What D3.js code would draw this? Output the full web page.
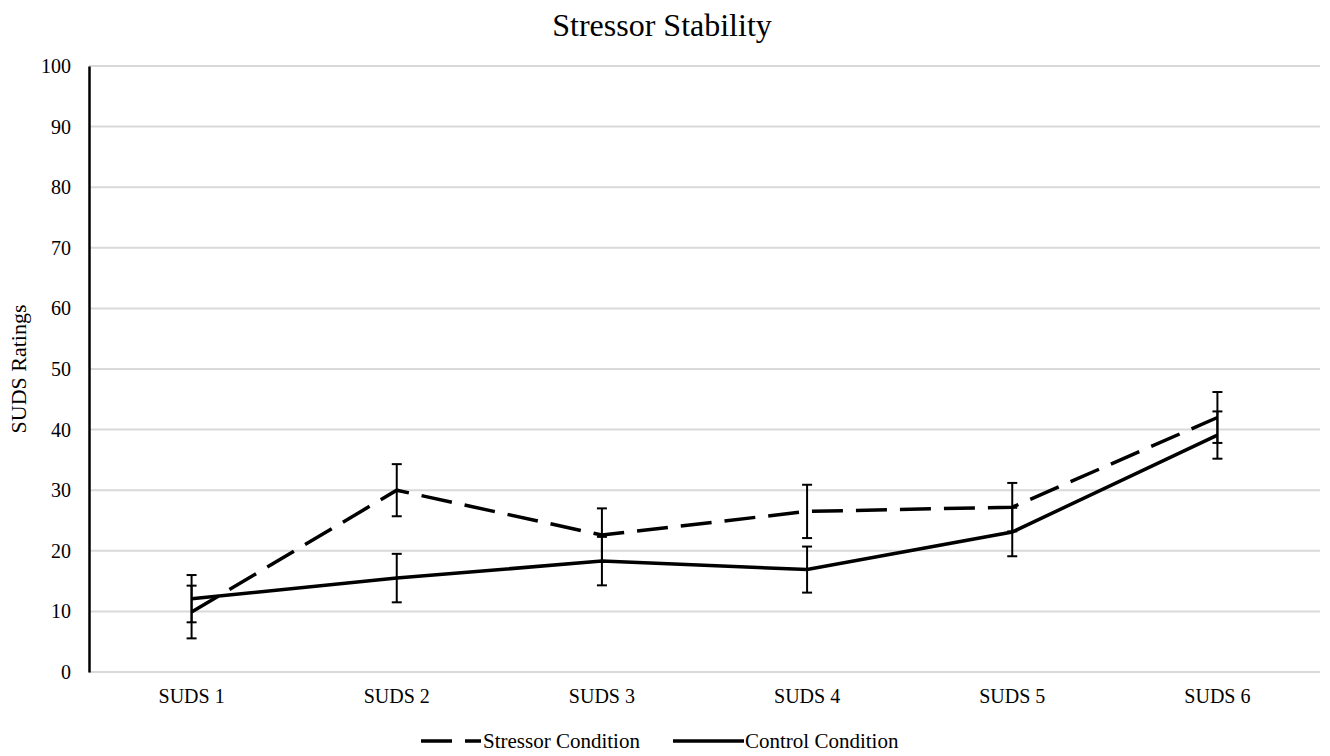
<!DOCTYPE html>
<html>
<head>
<meta charset="utf-8">
<script src="https://cdn.jsdelivr.net/npm/d3@7"></script>
<style>
  body { margin: 0; background: #fff; }
  text { font-family: "Liberation Serif", "Times New Roman", serif; fill: #000; }
</style>
</head>
<body>
<svg id="chart" width="1330" height="756"></svg>
<script>
const categories = ['SUDS 1', 'SUDS 2', 'SUDS 3', 'SUDS 4', 'SUDS 5', 'SUDS 6'];
const stressorValues = [9.9, 30.0, 22.6, 26.5, 27.2, 42.0];
const stressorErrors = [4.35, 4.3, 4.4, 4.4, 4.0, 4.2];
const controlValues = [12.1, 15.5, 18.3, 16.9, 23.1, 39.1];
const controlErrors = [3.9, 4.0, 4.0, 3.8, 4.0, 3.9];
const yTicks = [0, 10, 20, 30, 40, 50, 60, 70, 80, 90, 100];

const svg = d3.select('#chart');
const margin = { top: 66, right: 10, bottom: 84, left: 89 };
const width = 1330 - margin.left - margin.right;
const height = 756 - margin.top - margin.bottom;

const g = svg.append('g').attr('transform', `translate(${margin.left},${margin.top})`);

const x = d3.scaleBand().domain(categories).range([0, width]);
const y = d3.scaleLinear().domain([0, 100]).range([height, 0]);

// gridlines
g.selectAll('.grid')
  .data(yTicks)
  .enter()
  .append('line')
  .attr('x1', 0)
  .attr('x2', width)
  .attr('y1', d => y(d))
  .attr('y2', d => y(d))
  .attr('stroke', '#d9d9d9')
  .attr('stroke-width', 2);

// y axis
const yAxis = g.append('g')
  .call(d3.axisLeft(y).tickValues(yTicks).tickSize(0).tickPadding(18));
yAxis.select('.domain').attr('stroke', '#000').attr('stroke-width', 2.5);
yAxis.selectAll('text')
  .style('font-family', '"Liberation Serif", serif')
  .style('font-size', '20px');

// x axis labels
const xAxis = g.append('g')
  .attr('transform', `translate(0,${height})`)
  .call(d3.axisBottom(x).tickSize(0).tickPadding(17));
xAxis.select('.domain').remove();
xAxis.selectAll('text')
  .style('font-family', '"Liberation Serif", serif')
  .style('font-size', '20px');

const series = [
  { name: 'Stressor Condition', values: stressorValues, errors: stressorErrors, dash: '31,13' },
  { name: 'Control Condition', values: controlValues, errors: controlErrors, dash: null }
];

const line = d3.line()
  .x((d, i) => x(categories[i]) + x.bandwidth() / 2)
  .y(d => y(d));

series.forEach(s => {
  g.append('path')
    .datum(s.values)
    .attr('fill', 'none')
    .attr('stroke', '#000')
    .attr('stroke-width', 3.5)
    .attr('stroke-dasharray', s.dash)
    .attr('d', line);

  const eb = g.selectAll(null)
    .data(s.values.map((v, i) => ({ v, e: s.errors[i], c: categories[i] })))
    .enter()
    .append('g')
    .attr('transform', d => `translate(${x(d.c) + x.bandwidth() / 2},0)`);

  eb.append('line')
    .attr('y1', d => y(d.v - d.e))
    .attr('y2', d => y(d.v + d.e))
    .attr('stroke', '#000')
    .attr('stroke-width', 2);
  [-1, 1].forEach(sign => {
    eb.append('line')
      .attr('x1', -5).attr('x2', 5)
      .attr('y1', d => y(d.v + sign * d.e))
      .attr('y2', d => y(d.v + sign * d.e))
      .attr('stroke', '#000')
      .attr('stroke-width', 2);
  });
});

// title
svg.append('text')
  .attr('x', 662)
  .attr('y', 36)
  .attr('text-anchor', 'middle')
  .style('font-size', '32px')
  .text('Stressor Stability');

// y label
svg.append('text')
  .attr('transform', `translate(26,${margin.top + height / 2}) rotate(-90)`)
  .attr('text-anchor', 'middle')
  .style('font-size', '22px')
  .text('SUDS Ratings');

// legend
const legendItems = [
  { name: 'Stressor Condition', x: 421, dash: '31,13' },
  { name: 'Control Condition', x: 673, dash: null }
];
const legend = svg.selectAll('.legend')
  .data(legendItems)
  .enter()
  .append('g')
  .attr('transform', d => `translate(${d.x},741)`);
legend.append('line')
  .attr('x1', 0).attr('x2', d => d.dash ? 60 : 71)
  .attr('stroke', '#000')
  .attr('stroke-width', 3.5)
  .attr('stroke-dasharray', d => d.dash);
legend.append('text')
  .attr('x', d => d.dash ? 62 : 72)
  .attr('y', 7)
  .style('font-size', '21px')
  .text(d => d.name);
</script>
</body>
</html>
